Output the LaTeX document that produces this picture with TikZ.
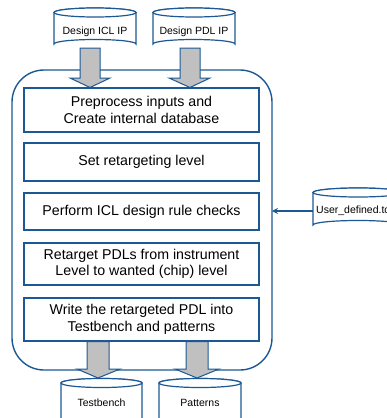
\documentclass[tikz,border=0pt]{standalone}
\usepackage{fontspec}
\setmainfont{Liberation Sans}
\usetikzlibrary{arrows.meta}
\definecolor{bl}{RGB}{28,88,148}
\definecolor{gr}{RGB}{192,192,192}
\tikzset{
  stepbox/.style={draw=bl, line width=1.3pt, minimum width=235pt, align=center, font=\fontsize{14.2}{16.5}\selectfont, inner sep=0pt},
  bigarrow/.style={draw=bl, fill=gr, line width=1pt, line join=miter},
  cyltext/.style={font=\fontsize{10.5}{12}\selectfont, inner sep=0pt},
  cyl/.style={draw=bl, line width=1.2pt, fill=white}
}
\begin{document}
\begin{tikzpicture}[x=1pt,y=-1pt]
\useasboundingbox (0,0) rectangle (386,418);
% outer rounded rect
\draw[draw=bl, line width=1.4pt, rounded corners=32pt] (12,70) rectangle (272,370);
\coordinate (outerR) at (272,211);
% step boxes
\node[stepbox, minimum height=44pt] (b1) at (141.5,110) {Preprocess inputs and\\Create internal database};
\node[stepbox, minimum height=38pt] (b2) at (141.5,162) {Set retargeting level};
\node[stepbox, minimum height=37pt] (b3) at (141.5,211.5) {Perform ICL design rule checks};
\node[stepbox, minimum height=42pt] (b4) at (141.5,264) {Retarget PDLs from instrument\\Level to wanted (chip) level};
\node[stepbox, minimum height=43pt] (b5) at (141.5,319.5) {Write the retargeted PDL into\\Testbench and patterns};
% top ICL
\path[cyl] (54,12.5) -- (54,44) arc[start angle=180,end angle=360,x radius=41,y radius=4.5] -- (136,12.5) arc[start angle=0,end angle=-180,x radius=41,y radius=4.5] -- cycle;
\draw[cyl] (95,12.5) ellipse[x radius=41,y radius=4.5];
\node[cyltext] (icl) at (95,32) {Design ICL IP};
% top PDL
\path[cyl] (153,12.5) -- (153,44) arc[start angle=180,end angle=360,x radius=41,y radius=4.5] -- (235,12.5) arc[start angle=0,end angle=-180,x radius=41,y radius=4.5] -- cycle;
\draw[cyl] (194,12.5) ellipse[x radius=41,y radius=4.5];
\node[cyltext] (pdl) at (194,32) {Design PDL IP};
% bottom Testbench
\path[cyl] (61,383) -- (61,430) -- (142,430) -- (142,383) arc[start angle=0,end angle=-180,x radius=40.5,y radius=4.5] -- cycle;
\draw[cyl] (101.5,383) ellipse[x radius=40.5,y radius=4.5];
\node[cyltext] (tb) at (101.5,403) {Testbench};
% bottom Patterns
\path[cyl] (159,383) -- (159,430) -- (241,430) -- (241,383) arc[start angle=0,end angle=-180,x radius=41,y radius=4.5] -- cycle;
\draw[cyl] (200,383) ellipse[x radius=41,y radius=4.5];
\node[cyltext] (pat) at (200,403) {Patterns};
% User_defined cylinder
\path[cyl] (313,192.5) -- (313,225) arc[start angle=180,end angle=360,x radius=45,y radius=4.5] -- (403,192.5) arc[start angle=0,end angle=-180,x radius=45,y radius=4.5] -- cycle;
\draw[cyl] (358,192.5) ellipse[x radius=45,y radius=4.5];
\node[cyltext, anchor=west] (ud) at (316,211) {User\_defined.tcl};
\coordinate (udL) at (313,211);
% big arrows top
\draw[bigarrow] (80,48) -- (100,48) -- (100,78) -- (110,78) -- (90,87.5) -- (70,78) -- (80,78) -- cycle;
\draw[bigarrow] (180,48) -- (200,48) -- (200,78) -- (210,78) -- (190,87.5) -- (169,78) -- (180,78) -- cycle;
% big arrows bottom
\draw[bigarrow] (87,341.5) -- (109,341.5) -- (109,369) -- (120,369) -- (98,378) -- (77,369) -- (87,369) -- cycle;
\draw[bigarrow] (186,341.5) -- (208,341.5) -- (208,369) -- (219,369) -- (197,378) -- (175,369) -- (186,369) -- cycle;
% side arrow
\draw[draw=bl, line width=1.5pt, -{Stealth[length=6pt,width=6pt]}] (udL) -- (outerR);
\end{tikzpicture}
\end{document}
